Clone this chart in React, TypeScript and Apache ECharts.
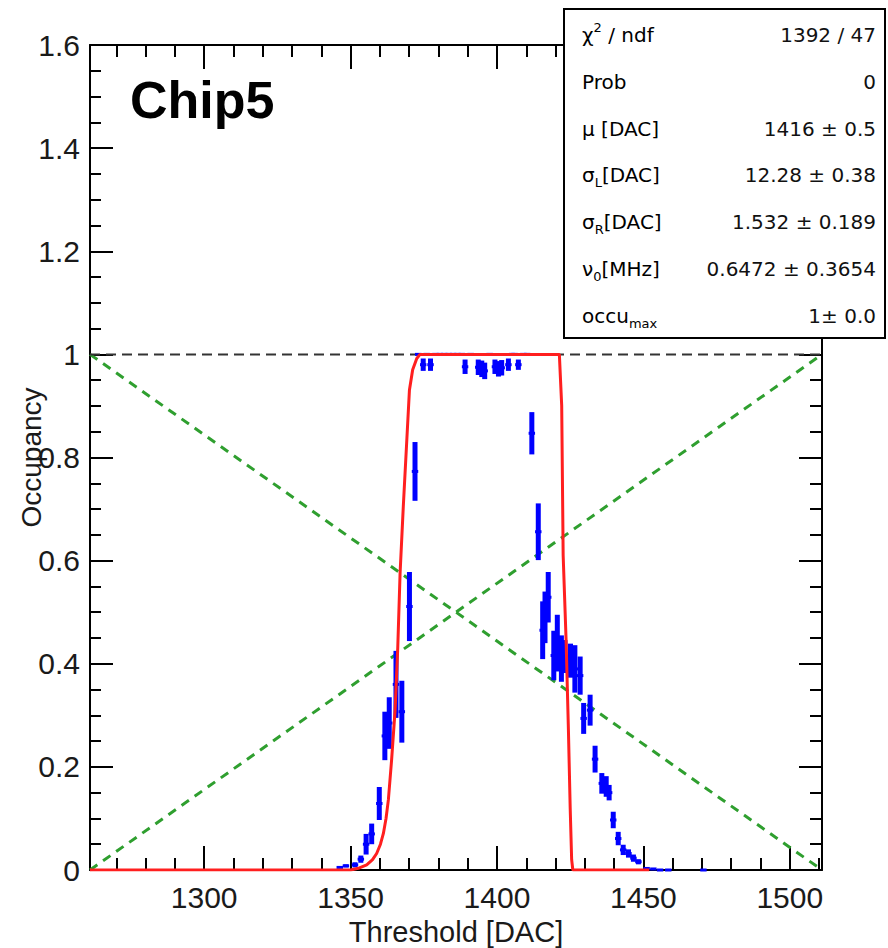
import React, { useEffect, useRef } from "react";
import * as echarts from "echarts";

// ---- axis definitions ----
const xMin = 1261;
const xMax = 1511;
const yMin = 0;
const yMax = 1.6;
const xMajorTicks = [1300, 1350, 1400, 1450, 1500];
const xMinorTicks = [
  1270, 1280, 1290, 1300, 1310, 1320, 1330, 1340, 1350, 1360, 1370, 1380, 1390,
  1400, 1410, 1420, 1430, 1440, 1450, 1460, 1470, 1480, 1490, 1500, 1510,
];

// ---- data: [threshold, occupancy, error] ----
const measured: number[][] = [
  [1346.3, 0.005, 0],
  [1348.4, 0.008, 0.003],
  [1351.5, 0.01, 0.005],
  [1353.5, 0.021, 0.007],
  [1355.3, 0.05, 0.02],
  [1357.2, 0.07, 0.02],
  [1359.8, 0.129, 0.032],
  [1361.7, 0.26, 0.047],
  [1363.2, 0.285, 0.05],
  [1365.5, 0.36, 0.065],
  [1367.5, 0.307, 0.06],
  [1370.1, 0.511, 0.067],
  [1372.0, 0.773, 0.057],
  [1373.1, 1, 0],
  [1374.8, 0.98, 0.012],
  [1376.0, 1, 0],
  [1377.3, 0.98, 0.012],
  [1379.0, 1, 0],
  [1380.5, 1, 0],
  [1382.0, 1, 0],
  [1383.5, 1, 0],
  [1385.0, 1, 0],
  [1386.5, 1, 0],
  [1388.0, 1, 0],
  [1389.1, 0.976, 0.014],
  [1391.0, 1, 0],
  [1393.6, 0.975, 0.015],
  [1394.8, 0.972, 0.016],
  [1395.8, 0.968, 0.016],
  [1397.5, 1, 0],
  [1399.3, 0.976, 0.014],
  [1400.5, 0.972, 0.015],
  [1401.6, 0.974, 0.015],
  [1403.9, 0.98, 0.012],
  [1405.0, 1, 0],
  [1406.0, 1, 0],
  [1407.3, 0.98, 0.01],
  [1409.0, 1, 0],
  [1410.3, 1, 0],
  [1411.9, 0.847, 0.041],
  [1414.1, 0.656, 0.055],
  [1415.6, 0.465, 0.056],
  [1416.4, 0.49, 0.05],
  [1417.5, 0.529, 0.049],
  [1419.4, 0.416, 0.048],
  [1420.6, 0.44, 0.055],
  [1422.0, 0.41, 0.045],
  [1423.2, 0.414, 0.032],
  [1425.1, 0.406, 0.033],
  [1426.6, 0.39, 0.046],
  [1428.4, 0.377, 0.037],
  [1429.6, 0.294, 0.03],
  [1431.8, 0.31, 0.03],
  [1433.5, 0.215, 0.026],
  [1435.8, 0.168, 0.02],
  [1437.3, 0.162, 0.02],
  [1438.3, 0.15, 0.015],
  [1439.7, 0.097, 0.016],
  [1441.4, 0.061, 0.013],
  [1443.1, 0.039, 0.01],
  [1444.9, 0.032, 0.008],
  [1446.6, 0.023, 0.007],
  [1448.3, 0.016, 0.005],
  [1451.1, 0.003, 0.002],
  [1453.4, 0.002, 0],
  [1455.7, 0, 0],
  [1458.5, 0, 0],
  [1470.5, 0, 0],
];

// fit curve
const fitCurve: number[][] = [
  [1261, 0], [1350, 0], [1353, 0.004], [1355.5, 0.01], [1357.5, 0.02],
  [1358.9, 0.032], [1360.2, 0.05], [1361.2, 0.071], [1362.1, 0.1],
  [1362.9, 0.136], [1364.0, 0.213], [1365.2, 0.31], [1366.1, 0.43],
  [1366.9, 0.575], [1368.0, 0.705], [1369.2, 0.834], [1370.1, 0.931],
  [1371.2, 0.97], [1372.6, 0.992], [1373.7, 1], [1421.3, 1], [1421.7, 0.95],
  [1422.1, 0.9], [1422.6, 0.61], [1423.6, 0.446], [1424.4, 0.27],
  [1425.0, 0.12], [1425.5, 0.02], [1425.9, 0], [1452, 0],
];

const unityLine: number[][] = [[1261, 1], [1511, 1]];
const diagDown: number[][] = [[1261, 1], [1511, 0]];
const diagUp: number[][] = [[1261, 0], [1511, 1]];

const statLabels = [
  "{t|χ}{sup|2}{t| / ndf}",
  "{t|Prob}",
  "{t|μ [DAC]}",
  "{t|σ}{sub|L}{t|[DAC]}",
  "{t|σ}{sub|R}{t|[DAC]}",
  "{t|ν}{sub|0}{t|[MHz]}",
  "{t|occu}{sub|max}",
];
const statValues = [
  "1392 / 47",
  "0",
  "1416 ± 0.5",
  "12.28 ± 0.38",
  "1.532 ± 0.189",
  "0.6472 ± 0.3654",
  "1± 0.0",
];

const FONT = "'Liberation Sans', Arial, sans-serif";
const STAT_FONT = "'DejaVu Sans', sans-serif";

export default function App() {
  const ref = useRef<HTMLDivElement>(null);

  useEffect(() => {
    if (!ref.current) return;
    const chart = echarts.init(ref.current, null, { renderer: "svg" });

    const axisLineStyle = { color: "#000", width: 2 };
    const tickLine = { color: "#000", width: 2 };

    const statRich = {
      t: { fontSize: 20, lineHeight: 28, fontFamily: STAT_FONT, color: "#111", verticalAlign: "middle" },
      sup: { fontSize: 13, fontFamily: STAT_FONT, color: "#111", verticalAlign: "top" },
      sub: { fontSize: 13, fontFamily: STAT_FONT, color: "#111", verticalAlign: "bottom" },
    };

    const statElems: any[] = [
      {
        type: "rect",
        shape: { x: 564, y: 9, width: 321, height: 329 },
        style: { fill: "#fff", stroke: "#000", lineWidth: 2 },
        z: 100,
      },
    ];
    statLabels.forEach((lab, i) => {
      const yc = 35 + i * 46.8;
      statElems.push({
        type: "text",
        x: 582,
        y: yc,
        z: 101,
        style: {
          text: lab,
          rich: statRich,
          align: "left",
          verticalAlign: "middle",
        },
      });
      statElems.push({
        type: "text",
        x: 876,
        y: yc,
        z: 101,
        style: {
          text: statValues[i],
          fontSize: 20,
          fontFamily: STAT_FONT,
          fill: "#111",
          align: "right",
          verticalAlign: "middle",
        },
      });
    });

    const baseX = { type: "value", min: xMin, max: xMax, splitLine: { show: false } };
    const baseY = { type: "value", min: yMin, max: yMax, interval: 0.2, splitLine: { show: false } };

    chart.setOption({
      animation: false,
      backgroundColor: "#fff",
      grid: { left: 90, right: 66, top: 45, bottom: 78, containLabel: false, outerBoundsMode: "none" },
      xAxis: [
        {
          ...baseX,
          position: "bottom",
          axisLine: { show: true, lineStyle: axisLineStyle },
          axisTick: { show: true, inside: true, length: 24, lineStyle: tickLine, customValues: xMajorTicks },
          axisLabel: {
            show: true,
            customValues: xMajorTicks,
            formatter: (v: number) => String(v),
            fontSize: 30,
            fontFamily: FONT,
            color: "#1a1a1a",
            margin: 12,
          },
          name: "Threshold [DAC]",
          nameLocation: "middle",
          nameGap: 47,
          nameMoveOverlap: false,
          nameTextStyle: { fontSize: 29, fontFamily: FONT, color: "#1a1a1a" },
        },
        {
          ...baseX,
          position: "bottom",
          axisLine: { show: false },
          axisTick: { show: true, inside: true, length: 12, lineStyle: tickLine, customValues: xMinorTicks },
          axisLabel: { show: false },
        },
        {
          ...baseX,
          position: "top",
          axisLine: { show: true, lineStyle: axisLineStyle },
          axisTick: { show: true, inside: true, length: 24, lineStyle: tickLine, customValues: xMajorTicks },
          axisLabel: { show: false },
        },
        {
          ...baseX,
          position: "top",
          axisLine: { show: false },
          axisTick: { show: true, inside: true, length: 12, lineStyle: tickLine, customValues: xMinorTicks },
          axisLabel: { show: false },
        },
      ],
      yAxis: [
        {
          ...baseY,
          position: "left",
          axisLine: { show: true, lineStyle: axisLineStyle },
          axisTick: { show: true, inside: true, length: 23, lineStyle: tickLine },
          minorTick: { show: true, splitNumber: 4, length: 11, lineStyle: tickLine },
          axisLabel: { fontSize: 30, fontFamily: FONT, color: "#1a1a1a", margin: 10 },
          name: "Occupancy",
          nameLocation: "middle",
          nameRotate: 90,
          nameGap: 45,
          nameMoveOverlap: false,
          nameTextStyle: { fontSize: 28, fontFamily: FONT, color: "#1a1a1a" },
        },
        {
          ...baseY,
          position: "right",
          axisLine: { show: true, lineStyle: axisLineStyle },
          axisTick: { show: true, inside: true, length: 23, lineStyle: tickLine },
          minorTick: { show: true, splitNumber: 4, length: 12, lineStyle: tickLine },
          axisLabel: { show: false },
        },
      ],
      series: [
        {
          type: "line",
          data: diagDown,
          showSymbol: false,
          z: 1,
          lineStyle: { color: "#2f9f2f", width: 3, type: [9, 7] },
        },
        {
          type: "line",
          data: diagUp,
          showSymbol: false,
          z: 1,
          lineStyle: { color: "#2f9f2f", width: 3, type: [9, 7] },
        },
        {
          type: "line",
          data: unityLine,
          showSymbol: false,
          z: 1,
          lineStyle: { color: "#333", width: 2, type: [10, 6] },
        },
        {
          type: "custom",
          z: 2,
          data: measured,
          renderItem: (params: any, api: any) => {
            const x = api.value(0);
            const y = api.value(1);
            const e = api.value(2);
            const c = api.coord([x, y]);
            const l = api.coord([x - 1.1, y]);
            const r = api.coord([x + 1.1, y]);
            const children: any[] = [
              {
                type: "line",
                shape: { x1: l[0], y1: c[1], x2: r[0], y2: c[1] },
                style: { stroke: "#0000ff", lineWidth: 3 },
              },
            ];
            if (e > 0) {
              const lo = api.coord([x, y - e]);
              const hi = api.coord([x, y + e]);
              children.push({
                type: "line",
                shape: { x1: c[0], y1: lo[1], x2: c[0], y2: hi[1] },
                style: { stroke: "#0000ff", lineWidth: 5 },
              });
            }
            return { type: "group", children };
          },
        },
        {
          type: "line",
          data: fitCurve,
          showSymbol: false,
          z: 3,
          lineStyle: { color: "#ff1f1f", width: 3 },
        },
      ],
      graphic: [
        {
          type: "text",
          left: 130,
          top: 74,
          z: 50,
          style: {
            text: "Chip5",
            fontSize: 52,
            fontWeight: "bold",
            fontFamily: FONT,
            fill: "#000",
          },
        },
        ...statElems,
      ],
    });

    return () => chart.dispose();
  }, []);

  return (
    <div
      ref={ref}
      style={{ position: "absolute", left: 0, top: 0, width: 888, height: 948, background: "#fff" }}
    />
  );
}
